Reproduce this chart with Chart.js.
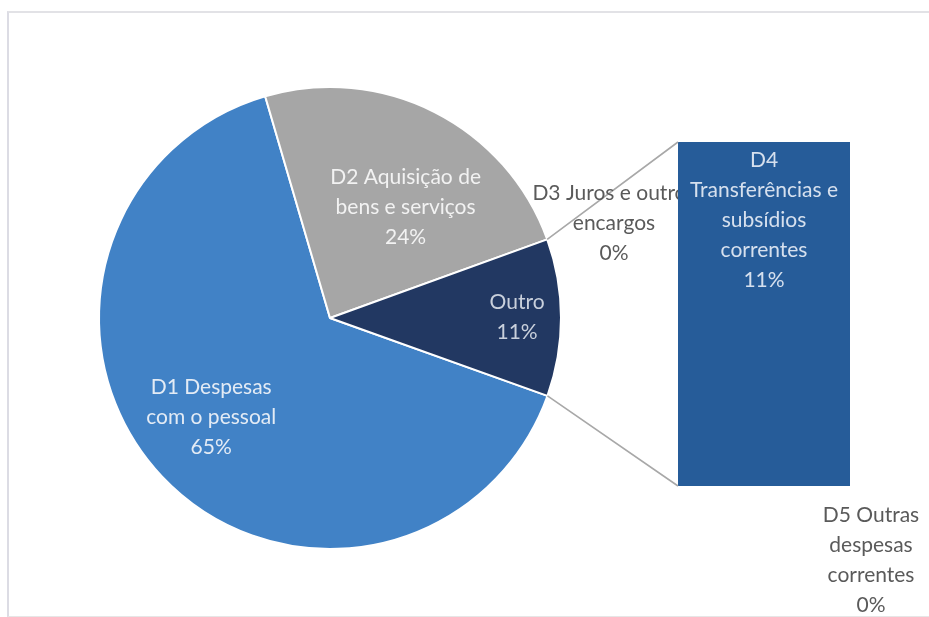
<!DOCTYPE html>
<html>
<head>
<meta charset="utf-8">
<script src="https://cdn.jsdelivr.net/npm/chart.js@4.4.0/dist/chart.umd.min.js"></script>
<style>
  body { margin: 0; background: #fff; overflow: hidden; }
  #wrap { position: relative; width: 929px; height: 617px; overflow: hidden; }
  #frame { position: absolute; left: 7px; top: 11px; width: 940px; height: 603px;
           border-top: 2px solid #e2e2e6; border-left: 2px solid #dcdce4; border-bottom: 1px solid #e6e6e6; }
  canvas { position: absolute; left: 0; top: 0; }
</style>
</head>
<body>
<div id="wrap">
  <div id="frame"></div>
  <canvas id="pie" width="929" height="617"></canvas>
  <canvas id="bar" width="929" height="617"></canvas>
</div>
<script>
// main pie slices (the last slice "Outro" is split into the bar)
const pieLabels = ['D1 Despesas com o pessoal', 'D2 Aquisição de bens e serviços', 'Outro'];
const pieLines = [['D1 Despesas', 'com o pessoal'], ['D2 Aquisição de', 'bens e serviços'], ['Outro']];
const pieValues = [65, 24];
const pieColors = ['#4182c6', '#a6a6a6', '#223862'];

// secondary bar, bottom to top
const barLabels = ['D5 Outras despesas correntes', 'D4 Transferências e subsídios correntes', 'D3 Juros e outros encargos'];
const barLines = [['D5 Outras', 'despesas', 'correntes'], ['D4', 'Transferências e', 'subsídios', 'correntes'], ['D3 Juros e outros', 'encargos']];
const barValues = [0, 11, 0];
const barColor = '#265c99';

const outro = barValues.reduce((a, b) => a + b, 0);
const allPie = pieValues.concat([outro]);
const total = allPie.reduce((a, b) => a + b, 0);
const pct = v => Math.round(v / total * 100) + '%';

const FONT = '21px Lato';
const LH = 30;

const pieChart = new Chart(document.getElementById('pie'), {
  type: 'pie',
  data: {
    labels: pieLabels,
    datasets: [{ data: allPie, backgroundColor: pieColors, borderColor: '#ffffff', borderWidth: 2 }]
  },
  options: {
    responsive: false,
    animation: false,
    rotation: 109.7,
    layout: { padding: { left: 98, right: 367, top: 86, bottom: 67 } },
    plugins: { legend: { display: false }, tooltip: { enabled: false } }
  }
});

function drawLines(ctx, lines, x, y, color) {
  ctx.fillStyle = color;
  const y0 = y - (lines.length - 1) * LH / 2;
  lines.forEach((t, i) => ctx.fillText(t, x, y0 + i * LH));
}

const labelPlugin = {
  id: 'pieOfBar',
  afterDraw(chart) {
    const ctx = chart.ctx;
    const arcs = pieChart.getDatasetMeta(0).data;
    const bars = barValues.map((v, i) => chart.getDatasetMeta(i).data[0]);
    const barLeft = bars[1].x - bars[1].width / 2;
    const barRight = bars[1].x + bars[1].width / 2;
    const barTop = Math.min(...bars.map(b => b.y));
    const barBottom = Math.max(...bars.map(b => b.base));

    // connector lines from the "Outro" slice to the bar
    const a = arcs[2];
    ctx.save();
    ctx.strokeStyle = '#a8a8a8';
    ctx.lineWidth = 1.6;
    ctx.beginPath();
    ctx.moveTo(a.x + a.outerRadius * Math.cos(a.startAngle), a.y + a.outerRadius * Math.sin(a.startAngle));
    ctx.lineTo(barLeft, barTop);
    ctx.moveTo(a.x + a.outerRadius * Math.cos(a.endAngle), a.y + a.outerRadius * Math.sin(a.endAngle));
    ctx.lineTo(barLeft, barBottom);
    ctx.stroke();
    ctx.restore();

    ctx.save();
    ctx.font = FONT;
    ctx.textAlign = 'center';
    ctx.textBaseline = 'middle';

    // pie labels
    const frac = [0.67, 0.58, 0.81];
    const shift = [0.06, 0.13, 0];
    const txtCol = ['#e3ebf5', '#f2f2f2', '#c9d0dc'];
    arcs.forEach((el, i) => {
      const mid = (el.startAngle + el.endAngle) / 2 + shift[i];
      const r = el.outerRadius * frac[i];
      const lines = pieLines[i].concat([pct(allPie[i])]);
      drawLines(ctx, lines, el.x + r * Math.cos(mid), el.y + r * Math.sin(mid), txtCol[i]);
    });

    // D3 label (cut off by the bar)
    ctx.save();
    ctx.beginPath();
    ctx.rect(0, 0, barLeft, chart.height);
    ctx.clip();
    drawLines(ctx, barLines[2].concat([pct(barValues[2])]), barLeft - 64, barTop + 81, '#5a5a5a');
    ctx.restore();

    // D4 label inside the bar
    const d4 = barLines[1].concat([pct(barValues[1])]);
    drawLines(ctx, d4, bars[1].x, barTop + 18 + (d4.length - 1) * LH / 2, '#d6e0ee');

    // D5 label below the bar
    const d5 = barLines[0].concat([pct(barValues[0])]);
    drawLines(ctx, d5, barRight + 21, barBottom + 31 + (d5.length - 1) * 29 / 2, '#5a5a5a');
    ctx.restore();
  }
};

new Chart(document.getElementById('bar'), {
  type: 'bar',
  data: {
    labels: [''],
    datasets: barValues.map((v, i) => ({
      label: barLabels[i],
      data: [v],
      backgroundColor: barColor,
      borderWidth: 0,
      barPercentage: 1,
      categoryPercentage: 1
    }))
  },
  options: {
    responsive: false,
    animation: false,
    layout: { padding: { left: 678, right: 79, top: 142, bottom: 131 } },
    scales: {
      x: { stacked: true, display: false },
      y: { stacked: true, display: false, min: 0, max: outro }
    },
    plugins: { legend: { display: false }, tooltip: { enabled: false } }
  },
  plugins: [labelPlugin]
});
</script>
</body>
</html>
